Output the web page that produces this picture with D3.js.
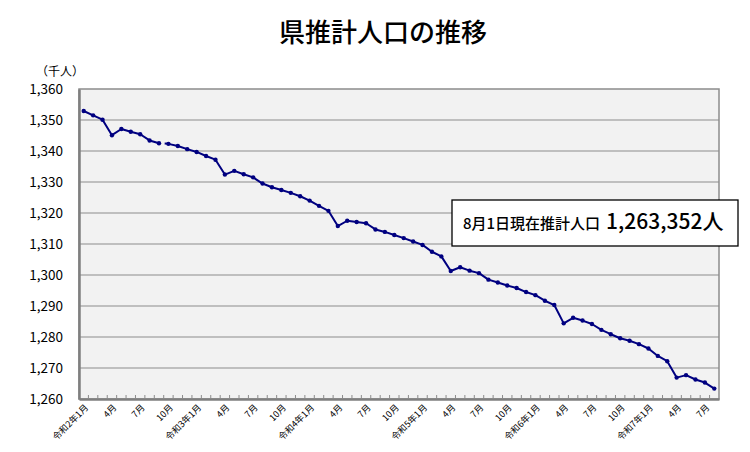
<!DOCTYPE html>
<html><head><meta charset="utf-8">
<script src="https://cdn.jsdelivr.net/npm/d3@7"></script>
<style>
html,body{margin:0;padding:0;background:#fff;}
svg{display:block;}
text{font-family:"Noto Sans CJK JP","Liberation Sans",sans-serif;}
</style></head>
<body><svg id="c" width="750" height="452"></svg>
<script>
const categories = [
"令和2年1月","令和2年2月","令和2年3月","令和2年4月","令和2年5月","令和2年6月","令和2年7月","令和2年8月","令和2年9月","令和2年10月","令和2年11月","令和2年12月",
"令和3年1月","令和3年2月","令和3年3月","令和3年4月","令和3年5月","令和3年6月","令和3年7月","令和3年8月","令和3年9月","令和3年10月","令和3年11月","令和3年12月",
"令和4年1月","令和4年2月","令和4年3月","令和4年4月","令和4年5月","令和4年6月","令和4年7月","令和4年8月","令和4年9月","令和4年10月","令和4年11月","令和4年12月",
"令和5年1月","令和5年2月","令和5年3月","令和5年4月","令和5年5月","令和5年6月","令和5年7月","令和5年8月","令和5年9月","令和5年10月","令和5年11月","令和5年12月",
"令和6年1月","令和6年2月","令和6年3月","令和6年4月","令和6年5月","令和6年6月","令和6年7月","令和6年8月","令和6年9月","令和6年10月","令和6年11月","令和6年12月",
"令和7年1月","令和7年2月","令和7年3月","令和7年4月","令和7年5月","令和7年6月","令和7年7月","令和7年8月"];
const population = [
1352.9,1351.5,1350.1,1345.1,1347.1,1346.2,1345.4,1343.4,1342.5,1342.3,1341.6,1340.6,
1339.7,1338.4,1337.2,1332.4,1333.6,1332.5,1331.5,1329.5,1328.3,1327.4,1326.5,1325.4,
1324.0,1322.3,1320.7,1315.8,1317.5,1317.1,1316.7,1314.7,1313.9,1312.9,1311.9,1310.8,
1309.7,1307.5,1306.0,1301.3,1302.5,1301.4,1300.6,1298.5,1297.6,1296.6,1295.8,1294.5,
1293.5,1291.7,1290.3,1284.4,1286.2,1285.3,1284.2,1282.3,1280.9,1279.6,1278.8,1277.7,
1276.3,1273.9,1272.2,1266.9,1267.7,1266.3,1265.3,1263.352];
const tickCategories = ["令和2年1月","令和2年4月","令和2年7月","令和2年10月","令和3年1月","令和3年4月","令和3年7月","令和3年10月",
"令和4年1月","令和4年4月","令和4年7月","令和4年10月","令和5年1月","令和5年4月","令和5年7月","令和5年10月",
"令和6年1月","令和6年4月","令和6年7月","令和6年10月","令和7年1月","令和7年4月","令和7年7月"];
const tickLabels = ["令和2年1月","4月","7月","10月","令和3年1月","4月","7月","10月",
"令和4年1月","4月","7月","10月","令和5年1月","4月","7月","10月",
"令和6年1月","4月","7月","10月","令和7年1月","4月","7月"];
const yTicks = [1260,1270,1280,1290,1300,1310,1320,1330,1340,1350,1360];
const title = "県推計人口の推移";
const unitLabel = "（千人）";
const noteSmall = "8月1日現在推計人口";
const noteBig = "1,263,352人";
const breakAfter = "令和2年9月";

const svg = d3.select("#c");
const L=79,R=719,T=89,B=399;
const x = d3.scaleBand().domain(categories).range([L,R]).padding(0);
const cx = c => x(c)+x.bandwidth()/2;
const y = d3.scaleLinear().domain([1260,1360]).range([B,T]);

svg.append("text").attr("x",383).attr("y",42).attr("text-anchor","middle")
  .attr("font-size",26).attr("font-weight",500).attr("fill","#000").text(title);

svg.append("rect").attr("x",L).attr("y",T).attr("width",R-L).attr("height",B-T).attr("fill","#f2f2f2");

// gridlines
svg.append("g").selectAll("line").data(yTicks.slice(1,-1)).join("line")
  .attr("x1",L).attr("x2",R).attr("y1",d=>y(d)).attr("y2",d=>y(d))
  .attr("stroke","#8c8c8c").attr("stroke-width",1);

svg.append("rect").attr("x",L).attr("y",T).attr("width",R-L).attr("height",B-T)
  .attr("fill","none").attr("stroke","#8c8c8c").attr("stroke-width",1.5);

// y axis
const yAxis = d3.axisLeft(y).tickValues(yTicks).tickSize(0).tickPadding(16).tickFormat(d3.format(","));
const ga = svg.append("g").attr("transform",`translate(${L},0)`).call(yAxis);
ga.select(".domain").attr("stroke","#7f7f7f").attr("stroke-width",2.5);
ga.selectAll("text").attr("font-size",13.5).attr("fill","#000").attr("font-family","Liberation Sans, Arial, sans-serif");

svg.append("text").attr("x",36).attr("y",76).attr("font-size",12).attr("fill","#000").text(unitLabel);

// x axis
const xAxis = d3.axisBottom(x).tickValues([]).tickSize(0);
const gx = svg.append("g").attr("transform",`translate(0,${B})`).call(xAxis);
gx.select(".domain").attr("stroke","#7f7f7f").attr("stroke-width",2.5);
svg.append("g").selectAll("line").data(categories.slice(1)).join("line")
  .attr("x1",d=>x(d)).attr("x2",d=>x(d)).attr("y1",B-1).attr("y2",B-4)
  .attr("stroke","#8c8c8c").attr("stroke-width",1);
svg.append("g").selectAll("text").data(tickCategories).join("text")
  .attr("transform",d=>`translate(${cx(d)+3},${B+7}) rotate(-45)`)
  .attr("text-anchor","end").attr("dy","0.35em").attr("font-size",9).attr("fill","#000")
  .text((d,i)=>tickLabels[i]);

// line
const pts = categories.map((c,i)=>({c,v:population[i]}));
const bi = categories.indexOf(breakAfter);
const line = d3.line().x(d=>cx(d.c)).y(d=>y(d.v));
const col = "#000080";
[pts.slice(0,bi+1), pts.slice(bi+1)].forEach(seg=>{
  svg.append("path").datum(seg).attr("d",line).attr("fill","none")
    .attr("stroke",col).attr("stroke-width",2).attr("stroke-linejoin","round");
});
const a=pts[bi], b=pts[bi+1], t=0.6;
svg.append("line").attr("x1",cx(a.c)+t*(cx(b.c)-cx(a.c))).attr("y1",y(a.v)+t*(y(b.v)-y(a.v)))
  .attr("x2",cx(b.c)).attr("y2",y(b.v)).attr("stroke",col).attr("stroke-width",2);
svg.append("g").selectAll("circle").data(pts).join("circle")
  .attr("cx",d=>cx(d.c)).attr("cy",d=>y(d.v)).attr("r",2.2).attr("fill",col);

// annotation
const bx=452,by=200,bw=286,bh=46;
svg.append("rect").attr("x",bx).attr("y",by).attr("width",bw).attr("height",bh)
  .attr("fill","#fff").attr("stroke","#000").attr("stroke-width",1.3);
const nt = svg.append("text").attr("x",463).attr("y",229).attr("fill","#000");
nt.append("tspan").attr("font-size",15).attr("font-weight",500).text(noteSmall);
nt.append("tspan").attr("font-size",21).attr("font-weight",500).attr("dx",6).text(noteBig);
</script></body></html>
